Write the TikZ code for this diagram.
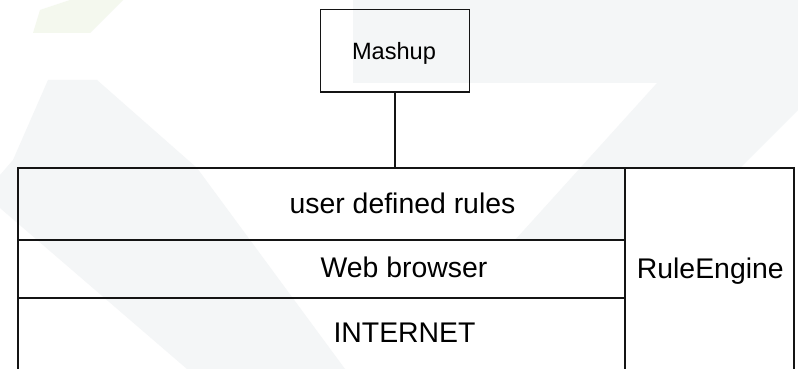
\documentclass[tikz,border=0pt]{standalone}
\usepackage{fontspec}
\setmainfont{Liberation Sans}
\definecolor{wmgrey}{RGB}{244,246,247}
\definecolor{wmgreen}{RGB}{244,248,238}
\definecolor{ink}{RGB}{20,20,20}
\tikzset{
  wm/.style={fill=wmgrey, draw=none},
  frameline/.style={draw=ink, line width=1.4pt},
  mashbox/.style={draw=ink, line width=1.4pt, rectangle, inner sep=0pt},
  bigtext/.style={anchor=base, inner sep=0pt, font=\fontsize{28.4}{34}\selectfont, text=black},
  smalltext/.style={anchor=base, inner sep=0pt, font=\fontsize{23.6}{28}\selectfont, text=black}
}
\begin{document}
\begin{tikzpicture}[x=1pt,y=-1pt]
\useasboundingbox (0,0) rectangle (798,369);
\fill[white] (0,0) rectangle (798,369);
% faint watermark
\fill[wmgreen] (33,33) -- (40,10) -- (70,0) -- (123,0) -- (90,33) -- cycle;
\path[wm] (48,80) -- (97,80) -- (197,168) -- (345,369) -- (187,369) -- (0,208) -- (0,175) -- (13,160) -- cycle;
\path[wm] (353,0) rectangle (798,83);
\path[wm] (657,83) -- (798,83) -- (798,110) -- (740,168) -- (625,168) -- (625,240) -- (515,240) -- cycle;
% mashup box
\node[mashbox, minimum width=148.8pt, minimum height=82.5pt] (mashup) at (394.9,50.75) {};
\node[smalltext] (mashuplabel) at (394,59.3) {Mashup};
% frame
\coordinate (frametop) at (394.9,168);
\draw[frameline] (18,369) -- (18,168) -- (794,168) -- (794,369);
\draw[frameline] (625,168) -- (625,369);
\draw[frameline] (18,240) -- (625,240);
\draw[frameline] (18,298) -- (625,298);
% connector
\draw[frameline] (mashup.south) -- (frametop);
% labels
\node[bigtext] (rules) at (402.5,213) {user defined rules};
\node[bigtext] (browser) at (404,277) {Web browser};
\node[bigtext] (internet) at (404.5,342) {INTERNET};
\node[bigtext] (engine) at (710.3,278) {RuleEngine};
\end{tikzpicture}
\end{document}
